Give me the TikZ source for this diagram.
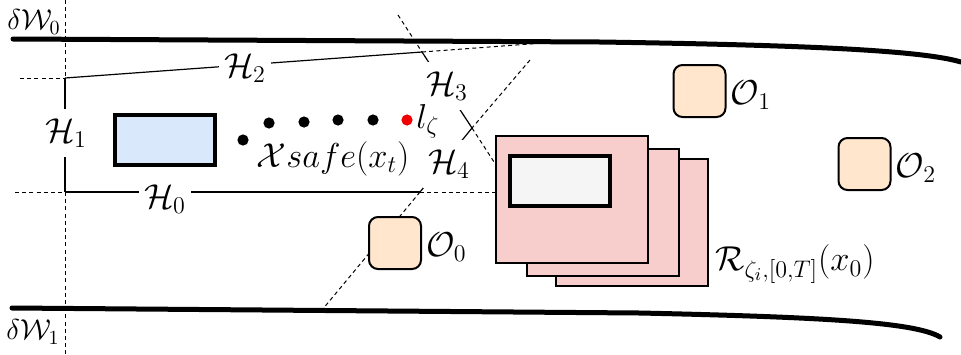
\documentclass[tikz,border=0pt]{standalone}
\usepackage{amsmath}
\definecolor{robotblue}{HTML}{DAE8FC}
\definecolor{reachpink}{HTML}{F8CECC}
\definecolor{obsorange}{HTML}{FFE6CC}
\definecolor{innergrey}{HTML}{F5F5F5}
\definecolor{dotred}{HTML}{F00000}
\begin{document}
\begin{tikzpicture}[x=0.5pt,y=-0.5pt,
  wall/.style={line width=2.5pt,line cap=round},
  hline/.style={line width=0.6pt},
  hdash/.style={line width=0.5pt,dash pattern=on 2pt off 1.6pt},
  lbl/.style={font=\fontsize{17.5}{20}\selectfont,inner sep=1pt},
  hlbl/.style={lbl,fill=white,inner xsep=2.5pt,inner ysep=5pt},
  wlbl/.style={font=\fontsize{14}{16}\selectfont,inner sep=1pt},
  dotnode/.style={circle,fill=black,inner sep=0pt,minimum size=5.6pt},
  robot/.style={draw,line width=2pt,minimum width=50pt,minimum height=25pt,inner sep=0pt},
  reach/.style={draw,line width=1pt,fill=reachpink,minimum width=76pt,minimum height=63.5pt,inner sep=0pt},
  obst/.style={draw,line width=1pt,fill=obsorange,rounded corners=4.5pt,minimum size=26pt,inner sep=0pt}]
\useasboundingbox (0,0) rectangle (961,354);
% polytope vertices
\coordinate (A) at (65,78);
\coordinate (B) at (422,52);
\coordinate (C) at (472,128);
\coordinate (D) at (420,192);
\coordinate (E) at (65,192);
% extension ends
\coordinate (h1t) at (65,0);
\coordinate (h1b) at (65,354);
\coordinate (h2l) at (20,78);
\coordinate (h2r) at (543,43);
\coordinate (h3t) at (398,15);
\coordinate (h3b) at (496,165);
\coordinate (h4t) at (530,60);
\coordinate (h4b) at (322,310);
\coordinate (h0l) at (15,192);
\coordinate (h0r) at (496,192);
% hyperplanes
\draw[hdash] (h1t) -- (A);
\draw[hline] (A) -- (E);
\draw[hdash] (E) -- (h1b);
\draw[hdash] (h2l) -- (A);
\draw[hline] (A) -- (B);
\draw[hdash] (B) -- (h2r);
\draw[hdash] (h3t) -- (B);
\draw[hline] (B) -- (C);
\draw[hdash] (C) -- (h3b);
\draw[hdash] (h4t) -- (C);
\draw[hline] (C) -- (D);
\draw[hdash] (D) -- (h4b);
\draw[hdash] (h0l) -- (E);
\draw[hline] (E) -- (D);
\draw[hdash] (D) -- (h0r);
% walls
\coordinate (w0a) at (13,39);
\coordinate (w0b) at (600,42);
\coordinate (w0c) at (961,62);
\coordinate (w1a) at (12,308);
\coordinate (w1b) at (640,313);
\coordinate (w1c) at (940,337);
\draw[wall] (w0a) -- (w0b) .. controls (800,45) and (920,50) .. (w0c);
\draw[wall] (w1a) -- (w1b) .. controls (820,317) and (915,322) .. (w1c);
\node[wlbl] (dw0) at (34,22) {$\delta\mathcal{W}_0$};
\node[wlbl] (dw1) at (33,332) {$\delta\mathcal{W}_1$};
% hyperplane labels
\node[hlbl] (lh1) at (66,133) {$\mathcal{H}_1$};
\node[hlbl] (lh2) at (245,68) {$\mathcal{H}_2$};
\node[hlbl] (lh3) at (447,86) {$\mathcal{H}_3$};
\node[hlbl] (lh4) at (449,164) {$\mathcal{H}_4$};
\node[hlbl] (lh0) at (165,199) {$\mathcal{H}_0$};
% robot
\node[robot,fill=robotblue] (rob) at (165,140) {};
% dots
\node[dotnode] (d1) at (243,140) {};
\node[dotnode] (d2) at (269,123) {};
\node[dotnode] (d3) at (304,122) {};
\node[dotnode] (d4) at (338,120) {};
\node[dotnode] (d5) at (373,120) {};
\node[dotnode,fill=dotred] (d6) at (407,120) {};
\node[lbl,anchor=west] (lz) at (414,121) {$l_\zeta$};
\node[lbl] (xs) at (333,159) {$\mathcal{X}safe(x_t)$};
% reachable sets
\node[reach] (r3) at (631.5,222.5) {};
\node[reach] (r2) at (603,212) {};
\node[reach] (r1) at (572,199.5) {};
\node[robot,fill=innergrey] (rin) at (559.5,181) {};
\node[lbl,anchor=west] (rl) at (713,264) {$\mathcal{R}_{\zeta_i,[0,T]}(x_0)$};
% obstacles
\node[obst] (o0) at (395,243) {};
\node[obst] (o1) at (699.5,91) {};
\node[obst] (o2) at (864.5,164) {};
\node[lbl,anchor=west] (lo0) at ([xshift=1pt,yshift=-2pt]o0.east) {$\mathcal{O}_0$};
\node[lbl,anchor=west] (lo1) at ([xshift=1pt,yshift=-2pt]o1.east) {$\mathcal{O}_1$};
\node[lbl,anchor=west] (lo2) at ([xshift=1pt,yshift=-2pt]o2.east) {$\mathcal{O}_2$};
\end{tikzpicture}
\end{document}
